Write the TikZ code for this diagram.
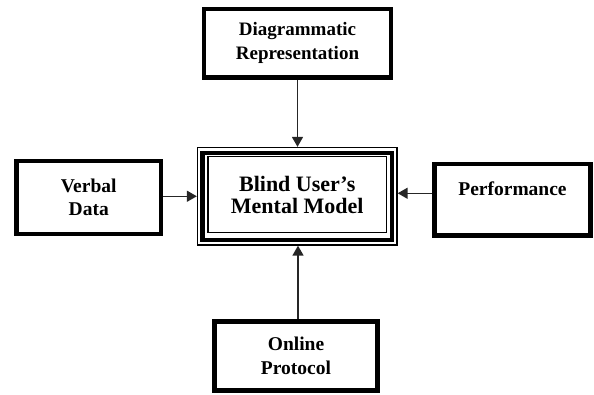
\documentclass[tikz,border=0pt]{standalone}
\usepackage{fontspec}
\setmainfont{Liberation Serif}
\usetikzlibrary{arrows.meta}
\tikzset{
  thickbox/.style={draw=black, line width=4.5pt, rectangle, inner sep=0pt, align=center,
    font=\bfseries\fontsize{19.5}{23.5}\selectfont},
  thinbox/.style={draw=black, line width=1.3pt, rectangle, inner sep=0pt},
  midbox/.style={draw=black, line width=4.3pt, rectangle, inner sep=0pt},
  conn/.style={draw=black!85, line width=1.5pt, -{Triangle[length=10pt,width=11pt]}},
  lbl/.style={align=center, inner sep=0pt, font=\bfseries\fontsize{19.5}{23.5}\selectfont}
}
\begin{document}
\begin{tikzpicture}[x=1pt,y=-1pt]
\useasboundingbox (0,0) rectangle (594,394);
% top box
\node[thickbox, minimum width=187pt, minimum height=68.5pt,
  font=\bfseries\fontsize{19}{24}\selectfont] (dr) at (297.5,43.25) {Diagrammatic\\Representation};
% left box
\node[thickbox, minimum width=144.5pt, minimum height=73pt] (vd) at (88.75,197.5) {Verbal\\Data};
% right box
\node[thickbox, minimum width=156pt, minimum height=71.5pt] (pf) at (512.5,199.75) {};
\node[lbl] (pft) at (512.5,188.5) {Performance};
% bottom box
\node[thickbox, minimum width=163pt, minimum height=69pt] (op) at (296,356) {Online\\Protocol};
% centre box (triple border)
\node[thinbox, minimum width=199.5pt, minimum height=97.5pt] (mm) at (297.25,196.25) {};
\node[midbox, minimum width=189.5pt, minimum height=86.8pt] (mmb) at (mm.center) {};
\node[thinbox, minimum width=178.5pt, minimum height=76pt, align=center,
  font=\bfseries\fontsize{22}{22.5}\selectfont] (mmi) at ([yshift=1.5pt]mm.center) {Blind User’s\\Mental Model};
% connectors
\draw[conn] (dr.south) -- (dr.south |- mm.north);
\draw[conn] (vd.east |- mm.west) -- (mm.west);
\coordinate (pa) at ([yshift=6.5pt]pf.west);
\draw[conn] (pa) -- (pa -| mm.east);
\coordinate (oa) at ([xshift=2pt]op.north);
\draw[conn] (oa) -- (oa |- mm.south);
\end{tikzpicture}
\end{document}
